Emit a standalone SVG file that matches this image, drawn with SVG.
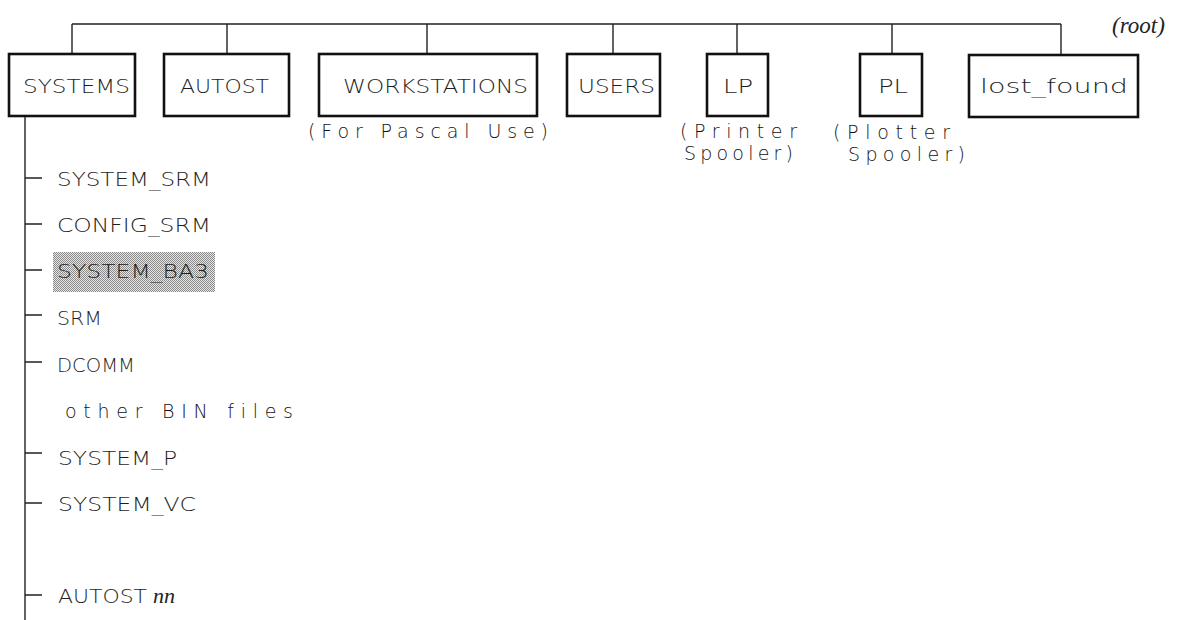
<svg xmlns="http://www.w3.org/2000/svg" width="1184" height="620" viewBox="0 0 1184 620">
<style>
.box{fill:#fff;stroke:#111;stroke-width:2.6}
.ln{fill:none;stroke:#222;stroke-width:1.4}
.t{font-family:"DejaVu Sans","Liberation Sans",sans-serif;font-size:20px;fill:#1e1e1e;font-weight:200}
.c{font-family:"DejaVu Sans","Liberation Sans",sans-serif;font-size:19px;fill:#111;font-weight:200;font-variant-ligatures:none}
.it{font-family:"Liberation Serif","DejaVu Serif",serif;font-style:italic;font-weight:normal;fill:#222}
</style>
<defs>
<pattern id="dots" width="2" height="2" patternUnits="userSpaceOnUse">
<rect width="2" height="2" fill="#e6e6e6"/>
<rect width="1" height="1" fill="#8a8a8a"/>
<rect x="1" y="1" width="1" height="1" fill="#8a8a8a"/>
</pattern>
</defs>
<rect width="1184" height="620" fill="#fff"/>
<g id="connectors">
<path class="ln" d="M72 24H1061M72 24V54M227 24V54M427 24V54M613 24V54M737 24V54M892 24V54M1061 24V54"/>
<path class="ln" d="M25 117V620M25 178H42M25 224H42M25 270H42M25 315H42M25 362H42M25 453H42M25 503H42M25 595H42"/>
</g>
<text class="it" x="1112" y="33" font-size="23">(root)</text>
<g id="SYSTEMS"><rect class="box" x="9" y="54" width="126" height="62"/><text class="t" x="23" y="93" textLength="107" lengthAdjust="spacingAndGlyphs">SYSTEMS</text></g>
<g id="AUTOST"><rect class="box" x="164" y="54" width="125" height="62"/><text class="t" x="180" y="93" textLength="89" lengthAdjust="spacingAndGlyphs">AUTOST</text></g>
<g id="WORKSTATIONS"><rect class="box" x="319" y="54" width="218" height="62"/><text class="t" x="343" y="93" textLength="185" lengthAdjust="spacingAndGlyphs">WORKSTATIONS</text>
<text class="c" x="308" y="138" textLength="240" lengthAdjust="spacing">(For Pascal Use)</text></g>
<g id="USERS"><rect class="box" x="567" y="54" width="93" height="62"/><text class="t" x="578" y="93" textLength="77" lengthAdjust="spacingAndGlyphs">USERS</text></g>
<g id="LP"><rect class="box" x="707" y="54" width="61" height="62"/><text class="t" x="723" y="93" textLength="30" lengthAdjust="spacingAndGlyphs">LP</text>
<text class="c" x="680" y="138" textLength="117" lengthAdjust="spacing">(Printer</text>
<text class="c" x="684" y="160" textLength="109" lengthAdjust="spacing">Spooler)</text></g>
<g id="PL"><rect class="box" x="860" y="54" width="62" height="62"/><text class="t" x="878" y="93" textLength="30" lengthAdjust="spacingAndGlyphs">PL</text>
<text class="c" x="833" y="139" textLength="117" lengthAdjust="spacing">(Plotter</text>
<text class="c" x="848" y="161" textLength="117" lengthAdjust="spacing">Spooler)</text></g>
<g id="lost_found"><rect class="box" x="969" y="55" width="169" height="62"/><text class="t" x="980" y="93" textLength="148" lengthAdjust="spacingAndGlyphs">lost_found</text></g>
<g id="files">
<text class="t" x="57" y="186" textLength="154" lengthAdjust="spacingAndGlyphs">SYSTEM_SRM</text>
<text class="t" x="57" y="232" textLength="154" lengthAdjust="spacingAndGlyphs">CONFIG_SRM</text>
<rect x="53" y="252" width="162" height="40" fill="url(#dots)"/>
<text class="t" x="57" y="278" textLength="152" lengthAdjust="spacingAndGlyphs">SYSTEM_BA3</text>
<text class="t" x="57" y="325" textLength="45" lengthAdjust="spacingAndGlyphs">SRM</text>
<text class="t" x="57" y="372" textLength="78" lengthAdjust="spacingAndGlyphs">DCOMM</text>
<text class="c" x="65" y="418" textLength="228" lengthAdjust="spacing">other BIN files</text>
<text class="t" x="58" y="465" textLength="119" lengthAdjust="spacingAndGlyphs">SYSTEM_P</text>
<text class="t" x="58" y="511" textLength="138" lengthAdjust="spacingAndGlyphs">SYSTEM_VC</text>
<text class="t" x="58" y="603" textLength="89" lengthAdjust="spacingAndGlyphs">AUTOST</text>
<text class="it" x="153" y="603" font-size="22">nn</text>
</g>
</svg>
